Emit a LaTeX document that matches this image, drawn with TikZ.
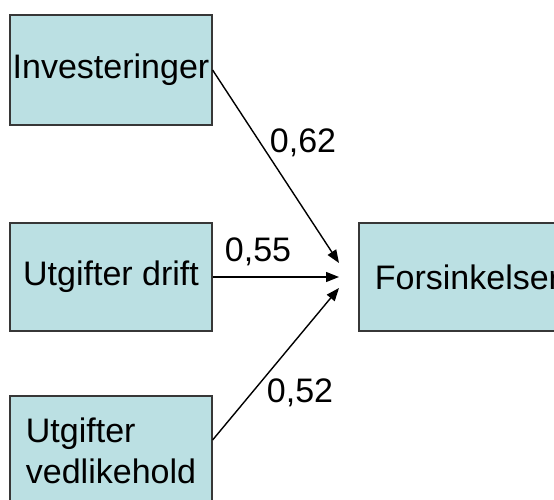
\documentclass[tikz,border=0pt]{standalone}
\usepackage{fontspec}
\setmainfont{Liberation Sans}
\usepackage{tikz}
\usetikzlibrary{arrows.meta,positioning}
\usepackage{xcolor}
\definecolor{boxfill}{RGB}{187,224,227}
\definecolor{boxline}{RGB}{55,55,55}
\tikzstyle{arrow} = [line width=1.4pt,-{Triangle[length=13pt,width=10pt]},color=black]

\begin{document}
\begin{tikzpicture}[x=1pt, y=-1pt,
    factor/.style={rectangle, draw=boxline, line width=1.2pt, fill=boxfill, minimum width=202pt, minimum height=108pt, inner sep=0pt, align=left, font=\fontsize{34}{41}\selectfont},
    coef/.style={font=\fontsize{34}{41}\selectfont, inner sep=0pt}]

\useasboundingbox (0,0) rectangle (554,500);

% Causes
\node[factor, minimum height=110pt] (invest) at (111,70) {Investeringer};
\node[factor] (drift) at (111,277) {Utgifter drift};
\node[factor, minimum height=110pt] (vedlike) at (111,451) {Utgifter\\vedlikehold};

% Effect
\node[factor, minimum width=217pt] (forsink) at (467.5,277) {Forsinkelser};

% Arrow tips
\coordinate (tipA) at (339,263);
\coordinate (tipB) at (339,277);
\coordinate (tipC) at (339,288);

% Connectors
\draw[arrow] (invest.east) -- (tipA);
\draw[arrow] (drift.east) -- (tipB);
\draw[arrow] ([yshift=11pt]vedlike.east) -- (tipC);

% Coefficients
\node[coef] (cA) at (303,143) {0,62};
\node[coef] (cB) at (258,252) {0,55};
\node[coef] (cC) at (300,393) {0,52};

\end{tikzpicture}
\end{document}
